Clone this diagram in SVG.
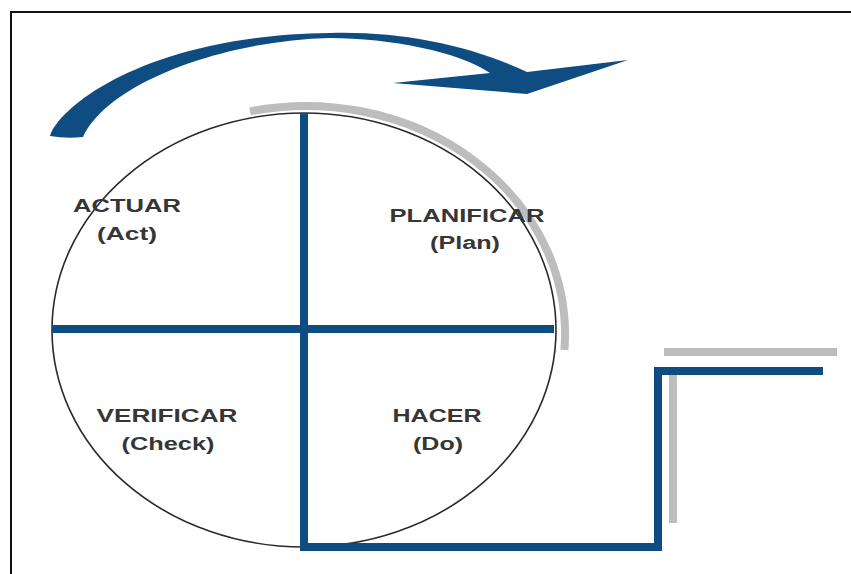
<svg xmlns="http://www.w3.org/2000/svg" width="851" height="574" viewBox="0 0 851 574">
  <style>
    .frame { fill: #ffffff; stroke: #111111; stroke-width: 2; }
    .blue { fill: none; stroke: #0f4c81; stroke-width: 8; stroke-linejoin: miter; }
    .shade { fill: none; stroke: #bdbdbd; stroke-width: 8; }
    .outline { fill: none; stroke: #2a2a2a; stroke-width: 1.6; }
    .label { font-family: "Liberation Sans", Arial, sans-serif; font-weight: bold; font-size: 18px; fill: #363636; text-anchor: middle; }
  </style>

  <!-- page frame -->
  <rect class="frame" x="11" y="12" width="850" height="575"/>

  <!-- circular PDCA arrow above the wheel -->
  <g id="cycle-arrow">
    <path fill="#0f4c81" d="M 50 136 C 60 105, 150 35, 330 33 C 400 31, 470 45, 527 72 L 628 60 L 527 94 L 393 83 L 490 73 C 460 52, 390 38, 330 38 C 230 40, 110 80, 83 137 Q 66 139, 50 136 Z"/>
  </g>

  <!-- wheel -->
  <g id="wheel">
    <path class="shade" d="M 250 111.4 A 259 228 0 0 1 564.4 350"/>
    <ellipse class="outline" cx="304" cy="330" rx="252" ry="217"/>
  </g>

  <!-- quadrant dividers and the step line -->
  <g id="connectors">
    <path class="shade" d="M 664 352 H 837 M 673 375 V 523"/>
    <line class="blue" x1="52" y1="329" x2="554" y2="329"/>
    <path class="blue" d="M 304 113 V 547 H 658 V 371 H 823" stroke-width="9"/>
  </g>

  <g id="node-act">
    <text class="label" x="127" y="212" textLength="108" lengthAdjust="spacingAndGlyphs">ACTUAR</text>
    <text class="label" x="127" y="240" textLength="60" lengthAdjust="spacingAndGlyphs">(Act)</text>
  </g>
  <g id="node-plan">
    <text class="label" x="467" y="222" textLength="155" lengthAdjust="spacingAndGlyphs">PLANIFICAR</text>
    <text class="label" x="465" y="249" textLength="70" lengthAdjust="spacingAndGlyphs">(Plan)</text>
  </g>
  <g id="node-check">
    <text class="label" x="167" y="422" textLength="141" lengthAdjust="spacingAndGlyphs">VERIFICAR</text>
    <text class="label" x="168" y="450" textLength="93" lengthAdjust="spacingAndGlyphs">(Check)</text>
  </g>
  <g id="node-do">
    <text class="label" x="437" y="422" textLength="89" lengthAdjust="spacingAndGlyphs">HACER</text>
    <text class="label" x="438" y="450" textLength="50" lengthAdjust="spacingAndGlyphs">(Do)</text>
  </g>
</svg>
